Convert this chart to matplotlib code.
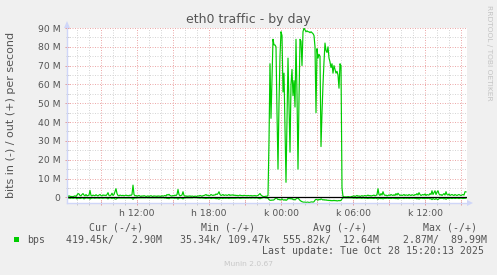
import numpy as np
import matplotlib
matplotlib.use("Agg")
import matplotlib.pyplot as plt
from matplotlib.patches import Polygon, Rectangle
from matplotlib.ticker import MultipleLocator, FixedLocator, FuncFormatter

# ---------------- data (Mbit/s, one value per 5 minutes) ----------------
out_mon = [
    0.3, 0.5, 0.8, 0.6, 0.4, 0.5, 0.3, 0.6, 0.8, 0.5,
    1.2, 2.0, 1.8, 1.0, 0.8, 1.5, 2.0, 1.2, 0.8, 1.5,
    0.8, 1.0, 1.2, 3.7, 1.0, 0.8, 1.2, 1.0, 0.9, 1.4,
    1.0, 0.8, 1.2, 1.5, 1.0, 0.8, 1.3, 1.0, 1.2, 0.9,
    1.5, 2.5, 1.0, 0.8, 1.2, 2.2, 1.0, 1.5, 3.0, 4.6,
    2.0, 1.0, 0.8, 1.2, 1.0, 0.9, 1.1, 0.8, 1.0, 1.2,
    0.9, 1.0, 0.8, 1.2, 1.0, 1.5, 6.5, 1.5, 0.8, 1.0,
    0.6, 0.8, 1.0, 0.7, 0.5, 0.8, 0.6, 0.9, 0.7, 0.5,
    0.6, 0.8, 0.5, 0.7, 0.9, 0.6, 0.5, 0.8, 0.6, 0.7,
    0.5, 0.8, 0.6, 0.7, 0.5, 0.9, 0.6, 0.8, 1.0, 0.7,
    1.5, 1.2, 1.6, 1.0, 0.8, 0.7, 1.0, 0.8, 1.2, 0.9,
    1.5, 4.2, 1.5, 0.8, 1.0, 1.2, 3.0, 1.0, 0.6, 0.8,
    0.5, 0.7, 0.6, 0.8, 0.5, 0.7, 0.6, 0.4, 0.7, 0.5,
    0.6, 0.8, 0.7, 1.0, 0.8, 0.6, 0.9, 1.0, 1.2, 1.5,
    1.0, 1.2, 0.8, 1.0, 1.5, 1.2, 1.0, 1.3, 1.2, 1.8,
    1.5, 2.0, 3.0, 1.5, 1.0, 1.2, 1.5, 1.0, 1.2, 1.3,
    1.0, 1.2, 1.5, 1.0, 1.3, 1.1, 1.4, 1.0, 1.2, 0.9,
    1.1, 0.8, 1.0, 1.2, 0.9, 1.0, 0.8, 1.1, 0.9, 1.0,
    0.8, 1.0, 0.9, 0.8, 1.0, 0.7, 0.9, 0.8, 1.0, 0.7,
    0.9, 1.0, 1.5, 2.0, 1.2, 0.8, 0.5, 0.4, 0.5, 0.6,
]
out_night = [
    0.6, 1.0, 30, 71, 42, 62, 84, 81, 81, 80,
    45, 15, 50, 75, 88, 86, 56, 66, 38, 8,
    40, 74, 50, 24, 60, 68, 54, 62, 48, 84,
    55, 15, 52, 84, 83, 70, 88, 89.99, 89, 88,
    88.5, 88, 88, 87.5, 88, 87.5, 87, 86, 80, 45,
    79, 74, 76, 75, 27, 45, 60, 72, 82, 78,
    77, 80, 74, 72, 69, 71, 66, 70, 68, 66,
    67, 65, 58, 71, 70, 5,
]
out_tue = [
    0.5, 0.3, 0.2, 0.3, 0.2, 0.4, 0.3, 0.2, 0.3, 0.5,
    0.6, 0.8, 0.5, 0.7, 1.0, 0.6, 0.8, 0.5, 0.7, 0.9,
    0.6, 0.8, 1.0, 0.7, 0.9, 1.2, 0.8, 1.0, 0.7, 0.9,
    1.0, 1.2, 0.8, 1.0, 1.5, 4.6, 1.5, 1.0, 2.0, 1.2,
    3.0, 1.5, 1.0, 1.2, 0.8, 1.0, 1.3, 1.0, 1.5, 1.2,
    1.0, 1.4, 1.0, 2.0, 1.2, 2.2, 1.5, 1.0, 1.3, 1.0,
    1.2, 1.5, 1.0, 1.3, 1.2, 1.0, 1.5, 1.2, 1.0, 1.4,
    1.2, 1.0, 1.5, 1.3, 2.0, 1.2, 2.5, 1.5, 1.0, 1.3,
    1.5, 1.2, 1.8, 1.0, 1.5, 1.3, 1.2, 2.0, 1.5, 3.5,
    1.5, 2.5, 3.5, 1.5, 2.8, 3.5, 1.8, 1.2, 1.5, 1.0,
    1.5, 2.0, 1.2, 3.0, 1.5, 1.2, 1.8, 1.0, 1.3, 1.5,
    1.2, 1.0, 1.5, 1.2, 1.0, 1.3, 1.5, 1.2, 1.0, 1.3,
    1.5, 1.2, 3.0, 2.9,
]
in_mon = [
    0.3, 0.4, 0.3, 0.5, 0.4, 0.3, 0.5, 0.4, 0.3, 0.4,
    0.8, 0.5, 0.4, 0.6, 0.5, 0.3, 0.4, 0.8, 0.5, 0.4,
    0.3, 0.5, 0.4, 0.9, 0.5, 0.4, 0.3, 0.4, 0.5, 0.3,
    0.4, 0.3, 0.5, 0.4, 0.3, 0.4, 0.5, 0.3, 0.4, 0.3,
    0.5, 0.8, 0.4, 0.3, 0.4, 0.6, 0.4, 0.5, 0.8, 0.9,
    0.5, 0.4, 0.3, 0.4, 0.3, 0.4, 0.3, 0.4, 0.3, 0.4,
    0.3, 0.4, 0.3, 0.4, 0.3, 0.5, 1.0, 0.5, 0.3, 0.4,
    0.3, 0.2, 0.3, 0.2, 0.3, 0.2, 0.3, 0.2, 0.3, 0.2,
    0.2, 0.3, 0.2, 0.3, 0.2, 0.3, 0.2, 0.3, 0.2, 0.3,
    0.2, 0.3, 0.2, 0.3, 0.2, 0.3, 0.2, 0.3, 0.4, 0.3,
    0.6, 0.5, 0.7, 0.4, 0.3, 0.4, 0.3, 0.4, 0.5, 0.3,
    0.5, 0.9, 0.5, 0.3, 0.4, 0.5, 0.8, 0.4, 0.3, 0.3,
    0.2, 0.3, 0.2, 0.3, 0.2, 0.3, 0.2, 0.1, 0.2, 0.2,
    0.2, 0.3, 0.3, 0.4, 0.3, 0.3, 0.4, 0.4, 0.5, 0.6,
    0.4, 0.5, 0.4, 0.4, 0.6, 0.5, 0.4, 0.5, 0.5, 0.7,
    0.6, 0.7, 0.9, 0.6, 0.4, 0.5, 0.6, 0.4, 0.5, 0.5,
    0.4, 0.5, 0.6, 0.4, 0.5, 0.4, 0.5, 0.4, 0.5, 0.4,
    0.4, 0.3, 0.4, 0.5, 0.4, 0.4, 0.3, 0.4, 0.3, 0.4,
    0.3, 0.4, 0.3, 0.3, 0.4, 0.3, 0.3, 0.3, 0.4, 0.3,
    0.3, 0.4, 0.6, 0.7, 0.5, 0.3, 0.2, 0.04, 0.2, 0.3,
]
in_night = [
    0.3, 0.5, 1.2, 1.5, 1.6, 1.4, 1.5, 1.3, 0.8, 0.3,
    0.6, 1.2, 1.0, 1.4, 1.2, 0.8, 1.3, 1.5, 1.2, 1.6,
    1.3, 0.5, 0.8, 0.3, 0.9, 0.6, 1.2, 1.0, 1.4, 0.8,
    0.6, 0.2, 1.0, 1.6, 2.0, 2.3, 2.5, 2.6, 2.5, 2.7,
    2.6, 2.5, 2.87, 2.6, 2.5, 2.4, 2.6, 2.3, 1.5, 1.0,
    1.2, 1.5, 1.0, 1.3, 0.8, 1.1, 1.4, 1.2, 1.5, 1.3,
    1.6, 1.5, 1.7, 1.6, 1.8, 1.7, 1.8, 1.6, 1.8, 1.7,
    1.9, 1.8, 1.7, 1.8, 1.6, 0.8,
]
in_tue = [
    0.3, 0.2, 0.2, 0.3, 0.2, 0.3, 0.2, 0.3, 0.2, 0.3,
    0.3, 0.4, 0.3, 0.4, 0.5, 0.3, 0.4, 0.3, 0.4, 0.5,
    0.3, 0.4, 0.5, 0.4, 0.5, 0.6, 0.4, 0.5, 0.4, 0.5,
    0.5, 0.6, 0.4, 0.5, 0.6, 0.9, 0.6, 0.5, 0.7, 0.5,
    0.8, 0.6, 0.5, 0.6, 0.4, 0.5, 0.6, 0.5, 0.6, 0.5,
    0.4, 0.6, 0.5, 0.7, 0.5, 0.8, 0.6, 0.4, 0.5, 0.4,
    0.5, 0.6, 0.4, 0.5, 0.5, 0.4, 0.6, 0.5, 0.4, 0.5,
    0.5, 0.4, 0.6, 0.5, 0.8, 0.5, 0.9, 0.6, 0.4, 0.5,
    0.6, 0.5, 0.7, 0.4, 0.6, 0.5, 0.5, 0.8, 0.6, 1.2,
    0.6, 0.9, 1.1, 0.6, 1.0, 1.2, 0.7, 0.5, 0.6, 0.4,
    0.6, 0.8, 0.5, 1.0, 0.6, 0.5, 0.7, 0.4, 0.5, 0.6,
    0.5, 0.4, 0.6, 0.5, 0.4, 0.5, 0.6, 0.5, 0.4, 0.5,
    0.6, 0.5, 0.5, 0.42,
]

start_hour = 6 + 10 / 60.0      # Monday 06:10
step_minutes = 5
x_tick_hours = [12, 18, 24, 30, 36]
x_tick_labels = ["h 12:00", "h 18:00", "k 00:00", "k 06:00", "k 12:00"]
y_tick_values = [0, 10e6, 20e6, 30e6, 40e6, 50e6, 60e6, 70e6, 80e6, 90e6]
y_tick_labels = ["0", "10 M", "20 M", "30 M", "40 M", "50 M", "60 M", "70 M", "80 M", "90 M"]
legend_name = "bps"
legend_headers = ["Cur (-/+)", "Min (-/+)", "Avg (-/+)", "Max (-/+)"]
legend_values = ["419.45k/   2.90M", "35.34k/ 109.47k", "555.82k/  12.64M", "2.87M/  89.99M"]
last_update = "Last update: Tue Oct 28 15:20:13 2025"

# ---------------- styling ----------------
W, H = 497, 275
BG = "#F0F0F0"
TXT = "#555555"
LINE = "#00CC00"
AXIS = "#CFD6F8"
MGRID = "#EDAAAA"
GRID = "#D6D6D6"
PX = 0.72  # one pixel in points

def fx(x):
    return x / W

def fy(y):
    return 1 - y / H

fig = plt.figure(figsize=(W / 100, H / 100), dpi=100, facecolor=BG)
ax = fig.add_axes([fx(67), fy(203), 400 / W, 175 / H])
ax.set_facecolor("white")

out = np.array(out_mon + out_night + out_tue) * 1e6
inn = -np.array(in_mon + in_night + in_tue) * 1e6
t = start_hour + np.arange(len(out)) * step_minutes / 60.0

ax.plot(t, inn, color=LINE, lw=0.85, zorder=3)
ax.plot(t, out, color=LINE, lw=0.85, zorder=3)
ax.axhline(0, color="black", lw=0.9, zorder=4)

ax.set_xlim(start_hour, start_hour + len(out) * step_minutes / 60.0)
ax.set_ylim(-3.0e6, 90e6)

# x axis: minor 1 h, major 3 h, labels 6 h
label_map = dict(zip(x_tick_hours, x_tick_labels))
ax.xaxis.set_major_locator(MultipleLocator(3))
ax.xaxis.set_minor_locator(MultipleLocator(1))
ax.xaxis.set_major_formatter(FuncFormatter(lambda v, p: label_map.get(int(round(v)), "")))
ax.yaxis.set_major_locator(FixedLocator(y_tick_values))
ax.yaxis.set_minor_locator(MultipleLocator(5e6))
ax.set_yticklabels(y_tick_labels)

dash = (0, (1, 1.5))
ax.grid(which="minor", color=GRID, lw=PX, ls=dash, zorder=1)
ax.grid(which="major", color=MGRID, lw=PX, ls=dash, zorder=2)

ax.tick_params(which="major", direction="inout", length=4 * PX, width=PX,
               color="#E49A9A", labelcolor=TXT, labelsize=6.7)
ax.tick_params(which="minor", direction="inout", length=3 * PX, width=PX, color="#C8C8C8")
ax.tick_params(axis="x", which="major", pad=3.0)
ax.tick_params(axis="y", which="major", pad=3.2)

for s in ["top", "right"]:
    ax.spines[s].set_visible(False)
for s in ["left", "bottom"]:
    ax.spines[s].set_color(AXIS)
    ax.spines[s].set_linewidth(1.0)
    ax.spines[s].set_zorder(5)

# axis arrows
fig.patches.append(Polygon([(fx(64), fy(28)), (fx(70), fy(28)), (fx(67), fy(21))],
                           closed=True, transform=fig.transFigure, color=AXIS, lw=0))
fig.patches.append(Polygon([(fx(467), fy(200)), (fx(467), fy(206)), (fx(473), fy(203))],
                           closed=True, transform=fig.transFigure, color=AXIS, lw=0))

# titles
fig.text(fx(248.5), fy(19.3), "eth0 traffic - by day", ha="center", va="center",
         fontsize=9, color=TXT, family="DejaVu Sans")
fig.text(fx(11.5), fy(114.7), "bits in (-) / out (+) per second", ha="center", va="center",
         rotation=90, fontsize=8, color=TXT, family="DejaVu Sans")
fig.text(fx(488.5), fy(53), "RRDTOOL / TOBI OETIKER", ha="center", va="center",
         rotation=-90, fontsize=5.4, color="#C4C4C4", family="DejaVu Sans")
fig.text(fx(248), fy(264.3), "Munin 2.0.67", ha="center", va="center",
         fontsize=5.4, color="#C8C8C8", family="DejaVu Sans")

# legend
MONO = dict(family="DejaVu Sans Mono", fontsize=7.1, color=TXT, va="center", ha="left")
fig.patches.append(Rectangle((fx(14), fy(242)), 5 / W, 5 / H, transform=fig.transFigure,
                             facecolor=LINE, edgecolor="none"))
fig.text(fx(26.7), fy(240), legend_name, **MONO)
header_x = [89.3, 201, 312.7, 422.7]
value_x = [65.7, 180, 283.3, 403.3]
for hx, htxt in zip(header_x, legend_headers):
    fig.text(fx(hx), fy(227.7), htxt, **MONO)
for vx, vtxt in zip(value_x, legend_values):
    fig.text(fx(vx), fy(240), vtxt, **MONO)
fig.text(fx(261.7), fy(251), last_update, **MONO)

fig.savefig("out.png", dpi=100, facecolor=BG)
